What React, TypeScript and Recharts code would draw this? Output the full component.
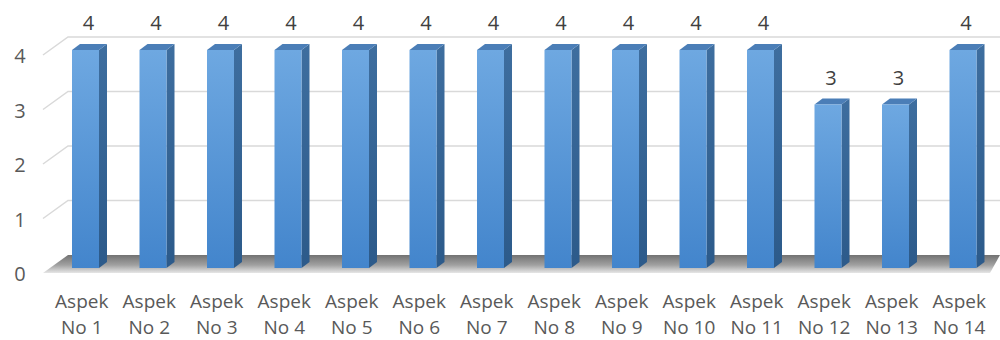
import { BarChart, Bar, XAxis, YAxis, CartesianGrid, LabelList } from 'recharts';

const aspects = [
  'Aspek No 1', 'Aspek No 2', 'Aspek No 3', 'Aspek No 4', 'Aspek No 5', 'Aspek No 6', 'Aspek No 7',
  'Aspek No 8', 'Aspek No 9', 'Aspek No 10', 'Aspek No 11', 'Aspek No 12', 'Aspek No 13', 'Aspek No 14',
];
const scores = [4, 4, 4, 4, 4, 4, 4, 4, 4, 4, 4, 3, 3, 4];
const yTicks = [0, 1, 2, 3, 4];

const data = aspects.map((name, i) => ({ name, value: scores[i] }));

// depth of the 3D box
const DX = 8;
const DY = 6;
const FONT = '"Open Sans", "Liberation Sans", sans-serif';
const TEXT = '#595959';

function Bar3D(props: any) {
  const { x, y, width, height } = props;
  if (!height || height <= 0) return null;
  const r = x + width;
  const b = y + height;
  return (
    <g>
      <polygon
        points={`${r},${y} ${r + DX},${y - DY} ${r + DX},${b - DY} ${r},${b}`}
        fill="url(#sideFace)"
      />
      <polygon
        points={`${x},${y} ${x + DX},${y - DY} ${r + DX},${y - DY} ${r},${y}`}
        fill="#4b7eb7"
      />
      <rect x={x} y={y} width={width} height={height} fill="url(#frontFace)" />
    </g>
  );
}

// back-wall gridlines with the slanted left edge; the baseline also gets the floor
function GridLine(props: any) {
  const { x1, y1, x2, y, height } = props;
  const isFloor = typeof y === 'number' && typeof height === 'number'
    ? Math.abs(y1 - (y + height)) < 1
    : false;
  return (
    <g key={`grid-${y1}`}>
      {isFloor && (
        <polygon
          points={`${x1 - 9},${y1 + 5} ${x1 + 16},${y1 - 13} ${x2 + 3},${y1 - 13} ${x2 - 7},${y1 + 5}`}
          fill="url(#floorFill)"
        />
      )}
      <polyline
        points={`${x1 - 9},${y1 + 5} ${x1 + 16},${y1 - 13} ${x2 + 3},${y1 - 13}`}
        fill="none"
        stroke={isFloor ? 'none' : '#d9d9d9'}
        strokeWidth={1.5}
      />
    </g>
  );
}

function YTick(props: any) {
  const { y, payload } = props;
  return (
    <text x={20} y={y + 6} dy="0.35em" textAnchor="middle" fontSize={20} fontFamily={FONT} fill={TEXT}>
      {payload.value}
    </text>
  );
}

// two-line category label: "Aspek" over "No n"
function XTick(props: any) {
  const { x, y, payload } = props;
  const [first, ...rest] = String(payload.value).split(' ');
  return (
    <g>
      <text x={x - 4} y={y + 40} textAnchor="middle" fontSize={19} fontFamily={FONT} fill={TEXT}>
        {first}
      </text>
      <text x={x - 4} y={y + 66} textAnchor="middle" fontSize={19} fontFamily={FONT} fill={TEXT}>
        {rest.join(' ')}
      </text>
    </g>
  );
}

function ValueLabel(props: any) {
  const { x, y, width, value } = props;
  return (
    <text x={x + width / 2 + 3} y={y - 20} textAnchor="middle" fontSize={20} fontFamily={FONT} fill="#404040">
      {value}
    </text>
  );
}

export default function App() {
  return (
    <div style={{ position: 'absolute', left: 0, top: 0, background: '#ffffff' }}>
      <BarChart width={1000} height={340} data={data} margin={{ top: 50, right: 3, left: 0, bottom: 0 }}>
        <defs>
          <linearGradient id="frontFace" x1="0" y1="0" x2="0" y2="1">
            <stop offset="0%" stopColor="#6ea8e1" />
            <stop offset="100%" stopColor="#4385cc" />
          </linearGradient>
          <linearGradient id="sideFace" x1="0" y1="0" x2="0" y2="1">
            <stop offset="0%" stopColor="#3e6e9f" />
            <stop offset="100%" stopColor="#2c5a8a" />
          </linearGradient>
          <linearGradient id="floorFill" x1="0" y1="0" x2="0" y2="1">
            <stop offset="0%" stopColor="#727272" />
            <stop offset="55%" stopColor="#a0a0a0" />
            <stop offset="100%" stopColor="#e6e6e6" />
          </linearGradient>
        </defs>
        <CartesianGrid vertical={false} horizontal={GridLine} />
        <XAxis
          dataKey="name"
          axisLine={false}
          tickLine={false}
          tickSize={0}
          tickMargin={0}
          height={72}
          interval={0}
          tick={<XTick />}
        />
        <YAxis
          domain={[0, 4]}
          ticks={yTicks}
          axisLine={false}
          tickLine={false}
          width={52}
          tick={<YTick />}
        />
        <Bar dataKey="value" barSize={27} shape={<Bar3D />} isAnimationActive={false}>
          <LabelList dataKey="value" content={<ValueLabel />} />
        </Bar>
      </BarChart>
    </div>
  );
}
